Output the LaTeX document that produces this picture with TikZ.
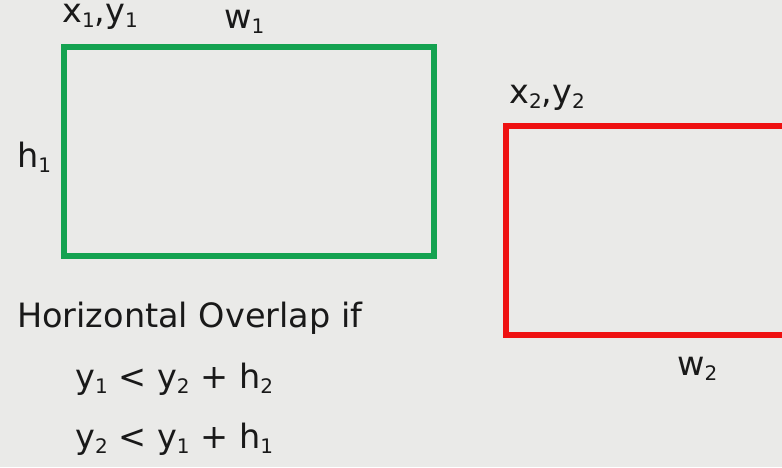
\documentclass[tikz,border=0pt]{standalone}
\usepackage{fontspec}
\setmainfont{DejaVu Sans}
\usepackage{tikz}
\definecolor{bgray}{HTML}{EAEAE8}
\definecolor{boxgreen}{HTML}{14A250}
\definecolor{boxred}{HTML}{EE1111}
\newcommand{\lowsub}[1]{\raisebox{-5pt}{\fontsize{20}{20}\selectfont #1}}
\tikzset{
  lbl/.style={anchor=base west, inner sep=0pt, font=\fontsize{33.5}{40}\selectfont, text=black!90}
}
\begin{document}
\begin{tikzpicture}[x=1pt, y=-1pt]
        \fill[bgray] (0, 0) rectangle (782, 467);
        \useasboundingbox (0, 0) rectangle (782, 467);
        \clip (0, 0) rectangle (782, 467);
        % the two boxes
        \draw[boxgreen, line width=5.5pt] (64, 47) rectangle (434, 256);
        \draw[boxred, line width=5.5pt] (506, 126) rectangle (800, 335);
        % labels of the boxes
        \node[lbl] (corner1) at (62, 22) {x\lowsub{1},y\lowsub{1}};
        \node[lbl] (width1) at (224, 28) {w\lowsub{1}};
        \node[lbl] (height1) at (17, 167) {h\lowsub{1}};
        \node[lbl] (corner2) at (509, 103) {x\lowsub{2},y\lowsub{2}};
        \node[lbl] (width2) at (677, 375) {w\lowsub{2}};
        % condition
        \node[lbl] (rule) at (17, 327) {Horizontal Overlap if};
        \node[lbl] (cond1) at (75, 388) {y\lowsub{1} < y\lowsub{2} + h\lowsub{2}};
        \node[lbl] (cond2) at (75, 448) {y\lowsub{2} < y\lowsub{1} + h\lowsub{1}};
      \end{tikzpicture}
\end{document}
